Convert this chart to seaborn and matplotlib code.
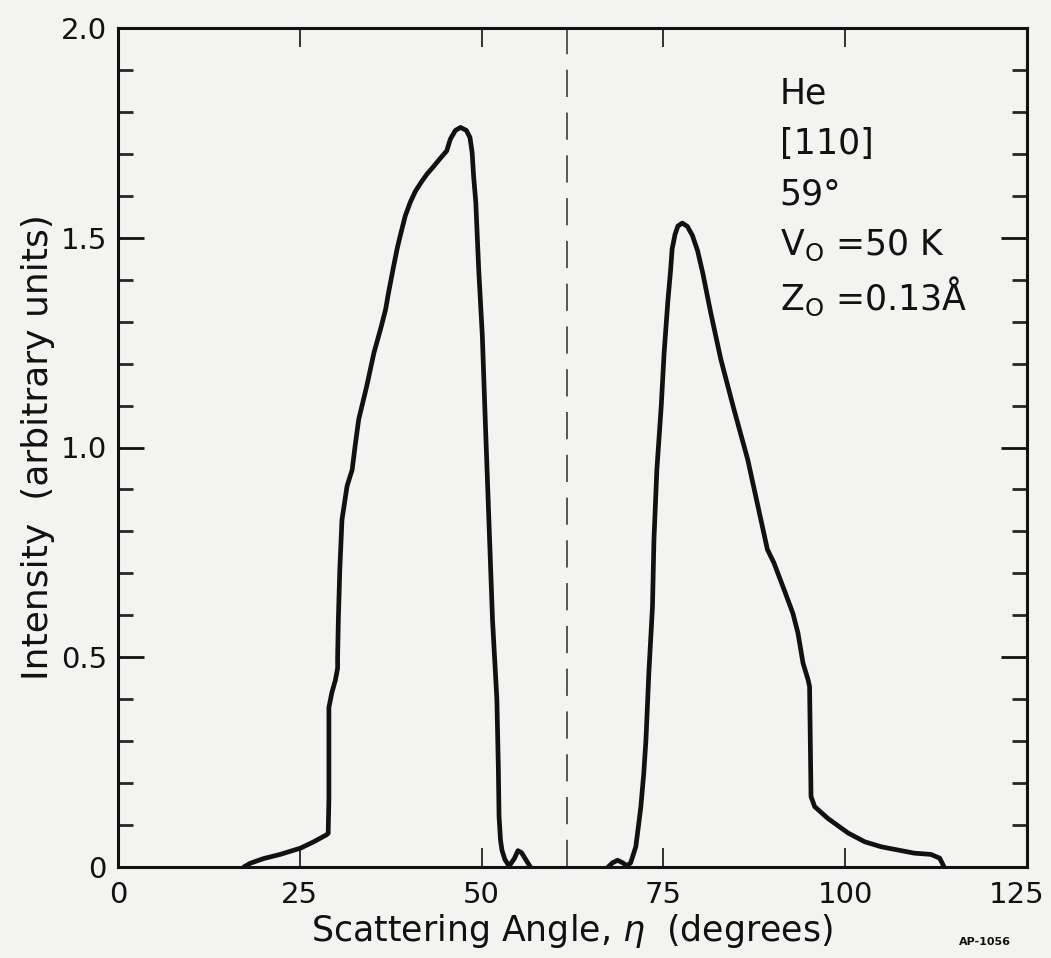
import numpy as np
import pandas as pd
import matplotlib
matplotlib.use("Agg")
import matplotlib.pyplot as plt
import matplotlib.transforms as mtransforms
import seaborn as sns
from matplotlib.ticker import MultipleLocator, FixedLocator

# ---- data ----
left_angle = [17.3, 18.2, 20.0, 22.3, 25.1, 26.9, 28.6, 28.9, 29.0, 29.0, 29.0, 29.4, 29.9,
              30.2, 30.2, 30.3, 30.5, 30.8, 31.5, 32.2, 32.6, 33.1, 34.2, 35.2, 36.1,
              36.8, 37.2, 37.9, 38.4, 38.8, 39.5, 40.2, 40.9, 41.8, 42.5, 43.3, 44.3,
              45.2, 45.7, 46.4, 47.1, 47.9, 48.4, 48.7, 48.9, 49.2, 49.6, 50.1, 50.5,
              51.0, 51.5, 52.1, 52.3, 52.4, 52.6, 52.8, 53.2, 53.6, 53.9, 54.5, 55.0,
              55.5, 56.1, 56.7]
left_intensity = [0.0, 0.009, 0.02, 0.03, 0.045, 0.06, 0.076, 0.08, 0.16, 0.30, 0.38, 0.415, 0.446,
                  0.474, 0.50, 0.589, 0.709, 0.828, 0.908, 0.947, 1.003, 1.067, 1.146, 1.226, 1.282,
                  1.329, 1.369, 1.432, 1.475, 1.504, 1.552, 1.585, 1.611, 1.635, 1.652, 1.668, 1.689,
                  1.707, 1.735, 1.756, 1.763, 1.756, 1.739, 1.703, 1.647, 1.585, 1.425, 1.266, 1.067,
                  0.828, 0.589, 0.40, 0.239, 0.12, 0.064, 0.04, 0.018, 0.007, 0.005, 0.02, 0.039,
                  0.034, 0.017, 0.0]

right_angle = [67.4, 68.0, 68.7, 69.4, 70.0, 70.5, 71.2, 71.5, 71.9, 72.3, 72.6, 73.0, 73.5,
               73.7, 74.1, 74.7, 75.1, 75.6, 76.0, 76.2, 76.6, 77.0, 77.6, 78.3, 79.0,
               79.7, 80.4, 81.5, 82.9, 84.7, 86.6, 89.3, 90.2, 91.6, 92.8, 93.5, 94.2,
               94.9, 95.1, 95.2, 95.3, 95.8, 97.6, 100.4, 102.7, 105.0, 109.5, 111.8, 113.0,
               113.6]
right_intensity = [0.0, 0.01, 0.016, 0.01, 0.003, 0.01, 0.048, 0.088, 0.144, 0.223, 0.303, 0.463, 0.621,
                   0.78, 0.947, 1.098, 1.226, 1.346, 1.425, 1.473, 1.508, 1.528, 1.535, 1.527, 1.505,
                   1.469, 1.417, 1.322, 1.21, 1.091, 0.971, 0.757, 0.725, 0.661, 0.605, 0.558, 0.486,
                   0.446, 0.43, 0.303, 0.168, 0.144, 0.116, 0.081, 0.06, 0.048, 0.033, 0.030, 0.021,
                   0.0]

specular_angle = 61.8
x_ticks = [0, 25, 50, 75, 100, 125]
x_tick_labels = ["0", "25", "50", "75", "100", "125"]
y_ticks = [0, 0.5, 1.0, 1.5, 2.0]
y_tick_labels = ["0", "0.5", "1.0", "1.5", "2.0"]
annotation_lines = ["He", "[110]", "59°", r"V$_{\rm O}$ =50 K", r"Z$_{\rm O}$ =0.13Å"]

# ---- styling ----
sns.set_theme(style="ticks")
plt.rcParams["font.family"] = ["DejaVu Sans"]
paper = "#f3f3f1"
ink = "#111111"

fig = plt.figure(figsize=(10.51, 9.58), dpi=100, facecolor=paper)
ax = fig.add_axes([118 / 1051, 91 / 958, (1027 - 118) / 1051, (867 - 28) / 958])
ax.set_facecolor(paper)

df_left = pd.DataFrame({"angle": left_angle, "intensity": left_intensity})
df_right = pd.DataFrame({"angle": right_angle, "intensity": right_intensity})
for d in (df_left, df_right):
    sns.lineplot(data=d, x="angle", y="intensity", ax=ax, sort=False, estimator=None,
                 color=ink, linewidth=3.4, solid_joinstyle="round", solid_capstyle="round")

ax.axvline(specular_angle, color="#555555", linewidth=1.4, dashes=(14, 8))

ax.set_xlim(0, 125)
ax.set_ylim(0, 2.0)

ax.xaxis.set_major_locator(FixedLocator(x_ticks))
ax.set_xticklabels(x_tick_labels)
ax.yaxis.set_major_locator(FixedLocator(y_ticks))
ax.set_yticklabels(y_tick_labels)
ax.yaxis.set_minor_locator(MultipleLocator(0.1))

for s in ax.spines.values():
    s.set_linewidth(2.2)
    s.set_color(ink)

ax.tick_params(axis="y", which="major", direction="in", length=19, width=2.0,
               left=True, right=True, labelsize=21, colors=ink, pad=8)
ax.tick_params(axis="y", which="minor", direction="in", length=11, width=2.0,
               left=True, right=True)
ax.tick_params(axis="x", which="major", direction="in", length=14, width=1.2,
               bottom=True, top=True, labelsize=21, colors=ink, pad=10)

# nudge the last x tick label inward so it stays inside the figure
last = ax.get_xticklabels()[-1]
last.set_transform(last.get_transform() +
                   mtransforms.ScaledTranslation(-10 / 100, 0, fig.dpi_scale_trans))

ax.set_xlabel(r"Scattering Angle, $\eta$  (degrees)", fontsize=25, color=ink, labelpad=2)
ax.set_ylabel("Intensity  (arbitrary units)", fontsize=26, color=ink, labelpad=4)

y0 = (867 - 93) / 839
for i, line in enumerate(annotation_lines):
    ax.text(0.728, y0 - i * 0.0605, line, transform=ax.transAxes, fontsize=25,
            color=ink, ha="left", va="center")

fig.text(985 / 1051, 1 - 942 / 958, "AP-1056", fontsize=8, color=ink, ha="center",
         va="center", fontweight="bold")

fig.savefig("out.png", dpi=100, facecolor=paper)
